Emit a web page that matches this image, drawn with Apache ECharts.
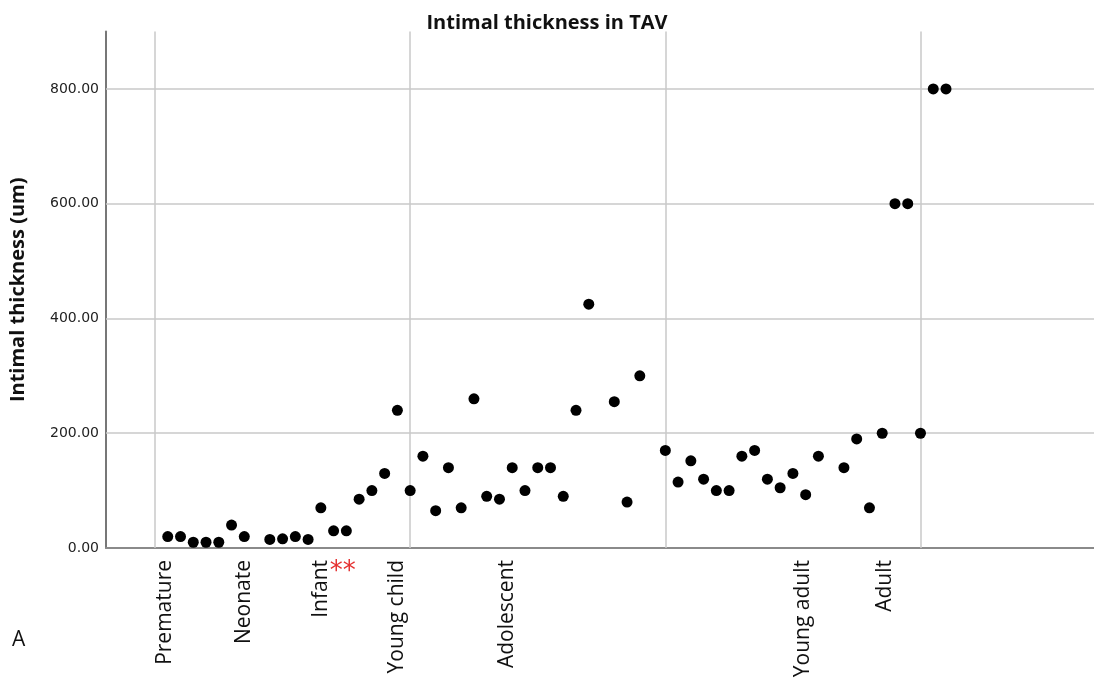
<!DOCTYPE html>
<html>
<head>
<meta charset="utf-8">
<script src="https://cdn.jsdelivr.net/npm/echarts@6/dist/echarts.min.js"></script>
<style>html,body{margin:0;padding:0;background:#fff}#c{width:1094px;height:682px}</style>
</head>
<body>
<div id="c"></div>
<script>
// Data (x = age index, y = intimal thickness in um)
const xValues = [0.5,1,1.5,2,2.5,3,3.5,4.5,5,5.5,6,6.5,7,7.5,8,8.5,9,9.5,10,10.5,11,11.5,12,12.5,13,13.5,14,14.5,15,15.5,16,16.5,17,18,18.5,19,20,20.5,21,21.5,22,22.5,23,23.5,24,24.5,25,25.5,26,27,27.5,28,28.5,29,29.5,30,30.5,31];
const yValues = [20,20,10,10,10,40,20,15,16,20,15,70,30,30,85,100,130,240,100,160,65,140,70,260,90,85,140,100,140,140,90,240,425,255,80,300,170,115,152,120,100,100,160,170,120,105,130,93,160,140,190,70,200,600,600,200,800,800];
const groupNames = ['Premature','Neonate','Infant','Young child','Adolescent','Young adult','Adult'];
const groupPositions = [0.4,3.5,6.5,9.5,13.8,25.4,28.6];
const xGridValues = [0,10,20,30];
const yTicks = [0,200,400,600,800];

const chart = echarts.init(document.getElementById('c'));
const points = xValues.map((x,i)=>[x,yValues[i]]);
const labelMap = {};
groupPositions.forEach((p,i)=>labelMap[p]=groupNames[i]);
const gridColor = '#c8c8c8';

chart.setOption({
  animation:false,
  title:{text:'Intimal thickness in TAV',left:'center',top:8,textStyle:{fontFamily:'Open Sans',fontSize:20,fontWeight:'bold',color:'#111'}},
  grid:{left:104.5,right:0,top:31.6,bottom:134},
  xAxis:{
    type:'value',min:-1.92,max:36.8,
    axisLine:{show:true,onZero:false,lineStyle:{color:'#8a8a8a',width:2}},
    axisTick:{show:false},
    splitLine:{show:false},
    axisLabel:{
      customValues:groupPositions,rotate:90,margin:12,
      fontFamily:'Open Sans',fontSize:21,color:'#111',
      formatter:v=>labelMap[v]||''
    }
  },
  yAxis:{
    type:'value',min:0,max:900,
    name:'Intimal thickness (um)',nameLocation:'middle',nameGap:78,
    nameTextStyle:{fontFamily:'Open Sans',fontSize:20,fontWeight:'bold',color:'#111'},
    axisLine:{show:true,onZero:false,lineStyle:{color:'#777',width:2}},
    axisTick:{show:false},
    splitLine:{show:false},
    axisLabel:{
      customValues:yTicks,
      fontFamily:'DejaVu Sans',fontSize:14,color:'#222',margin:7,
      formatter:v=>v.toFixed(2)
    }
  },
  series:[{
    type:'scatter',data:[],z:1,
    markLine:{
      silent:true,symbol:'none',label:{show:false},z:1,
      lineStyle:{color:gridColor,width:1.5,type:'solid'},
      data:xGridValues.map(v=>({xAxis:v})).concat(yTicks.filter(v=>v>0).map(v=>({yAxis:v})))
    }
  },{
    type:'scatter',data:points,symbolSize:11,z:5,
    itemStyle:{color:'#000',opacity:1}
  }]
});

const starPos = chart.convertToPixel({gridIndex:0},[6.85,0]);
chart.setOption({
  graphic:[
    {type:'text',left:12,top:630,style:{text:'A',fontFamily:'Open Sans',fontSize:21,fill:'#111'}},
    {type:'text',x:starPos[0],y:starPos[1]+24,style:{text:'**',fontFamily:'DejaVu Sans',fontSize:26,fill:'#e53030',align:'left',verticalAlign:'middle'}}
  ]
});
</script>
</body>
</html>
